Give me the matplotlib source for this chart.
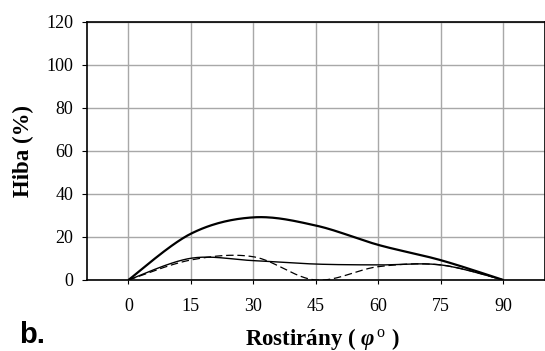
import numpy as np
import matplotlib
matplotlib.use("Agg")
import matplotlib.pyplot as plt

# fibre direction (deg) and error (%)
angles = [0, 15, 30, 45, 60, 75, 90]
err_thick = [0, 21.5, 29.1, 25.3, 16.3, 9.2, 0]
err_thin = [0, 10.1, 9.0, 7.4, 7.0, 7.0, 0]
err_dash = [0, 9.3, 10.8, 0.0, 6.2, 7.0, 0]

y_ticks = [0, 20, 40, 60, 80, 100, 120]

plt.rcParams['font.family'] = ['Liberation Serif', 'DejaVu Serif']
plt.rcParams['mathtext.fontset'] = 'custom'
plt.rcParams['mathtext.rm'] = 'Liberation Serif'
plt.rcParams['mathtext.it'] = 'Liberation Serif:italic:bold'


def smooth(xs, ys, n=40):
    # excel style smoothed line (bezier through points)
    x = np.asarray(xs, float)
    y = np.asarray(ys, float)
    px = np.concatenate([[x[0]], x, [x[-1]]])
    py = np.concatenate([[y[0]], y, [y[-1]]])
    outx, outy = [], []
    t = np.linspace(0, 1, n)
    for i in range(1, len(px) - 2):
        p0 = np.array([px[i], py[i]])
        p3 = np.array([px[i + 1], py[i + 1]])
        c1 = p0 + (np.array([px[i + 1], py[i + 1]]) - np.array([px[i - 1], py[i - 1]])) / 6
        c2 = p3 - (np.array([px[i + 2], py[i + 2]]) - p0) / 6
        b = ((1 - t) ** 3)[:, None] * p0 + (3 * (1 - t) ** 2 * t)[:, None] * c1 \
            + (3 * (1 - t) * t ** 2)[:, None] * c2 + (t ** 3)[:, None] * p3
        outx.extend(b[:, 0])
        outy.extend(b[:, 1])
    return outx, outy


fig = plt.figure(figsize=(5.45, 3.51), dpi=100)
ax = fig.add_axes([86.7 / 545, 71 / 351, 1 - 86.7 / 545, (280 - 21.7) / 351])

for ys, lw, ls in [(err_thin, 1.0, '-'), (err_dash, 0.9, (0, (6, 3))), (err_thick, 1.6, '-')]:
    sx, sy = smooth(angles, ys)
    ax.plot(sx, sy, color='black', lw=lw, linestyle=ls, solid_capstyle='butt')

ax.set_xlim(-10, 100)
ax.set_ylim(0, 120)
ax.set_xticks(angles)
ax.set_yticks(y_ticks)
ax.grid(True, color='#a8a8a8', lw=1)
ax.set_axisbelow(True)
ax.tick_params(axis='both', direction='out', labelsize=13, color='black')
ax.tick_params(axis='y', length=3.6, pad=6)
ax.tick_params(axis='x', length=3, pad=10)
for s in ax.spines.values():
    s.set_color('black')
    s.set_linewidth(1.2)

fig.text(23.5 / 545, 1 - 151 / 351, 'Hiba (%)', rotation=90, ha='center', va='center',
         fontsize=16.5, fontweight='bold')
fig.text(245 / 545, 1 - 345 / 351, r'Rostirány ( $\varphi^{\,\rm o}$ )', ha='left', va='baseline',
         fontsize=16.5, fontweight='bold')
fig.text(19 / 545, 1 - 343 / 351, 'b.', ha='left', va='baseline', fontsize=21,
         fontweight='bold', family=['Liberation Sans', 'DejaVu Sans'])

fig.savefig('out.png', dpi=100)
